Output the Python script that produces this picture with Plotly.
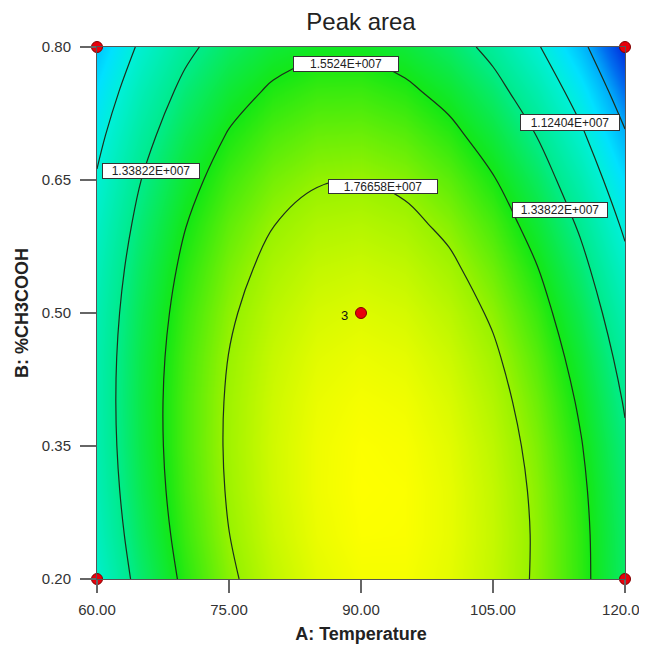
import plotly.graph_objects as go
import numpy as np

# ---- data ----
temperature = [60, 65, 70, 75, 80, 85, 90, 95, 100, 105, 110, 115, 120]                     # A
ch3cooh = [0.20, 0.25, 0.30, 0.35, 0.40, 0.45, 0.50, 0.55, 0.60, 0.65, 0.70, 0.75, 0.80]     # B
# Peak area in units of 1E+007; rows follow ch3cooh, columns follow temperature
peak_area_e7 = [
    [1.1620, 1.3930, 1.5857, 1.7400, 1.8560, 1.9337, 1.9730, 1.9740, 1.9367, 1.8610, 1.7470, 1.5947, 1.4040],
    [1.1970, 1.4246, 1.6139, 1.7649, 1.8775, 1.9518, 1.9878, 1.9854, 1.9447, 1.8657, 1.7483, 1.5926, 1.3986],
    [1.2224, 1.4467, 1.6327, 1.7803, 1.8896, 1.9605, 1.9931, 1.9874, 1.9433, 1.8609, 1.7402, 1.5812, 1.3838],
    [1.2385, 1.4594, 1.6420, 1.7863, 1.8922, 1.9598, 1.9890, 1.9799, 1.9325, 1.8468, 1.7227, 1.5603, 1.3595],
    [1.2451, 1.4627, 1.6419, 1.7828, 1.8853, 1.9496, 1.9754, 1.9630, 1.9122, 1.8231, 1.6957, 1.5299, 1.3258],
    [1.2423, 1.4565, 1.6323, 1.7699, 1.8691, 1.9299, 1.9524, 1.9366, 1.8825, 1.7900, 1.6592, 1.4901, 1.2826],
    [1.2300, 1.4408, 1.6133, 1.7475, 1.8433, 1.9008, 1.9200, 1.9008, 1.8433, 1.7475, 1.6133, 1.4408, 1.2300],
    [1.2083, 1.4158, 1.5849, 1.7157, 1.8082, 1.8623, 1.8781, 1.8556, 1.7947, 1.6955, 1.5580, 1.3821, 1.1679],
    [1.1771, 1.3812, 1.5470, 1.6745, 1.7636, 1.8143, 1.8268, 1.8009, 1.7367, 1.6341, 1.4932, 1.3140, 1.0965],
    [1.1365, 1.3373, 1.4997, 1.6238, 1.7095, 1.7569, 1.7660, 1.7368, 1.6692, 1.5633, 1.4190, 1.2364, 1.0155],
    [1.0865, 1.2838, 1.4429, 1.5636, 1.6460, 1.6901, 1.6958, 1.6632, 1.5922, 1.4830, 1.3353, 1.1494, 0.9251],
    [1.0269, 1.2210, 1.3767, 1.4940, 1.5731, 1.6138, 1.6161, 1.5801, 1.5058, 1.3932, 1.2422, 1.0529, 0.8253],
    [0.9580, 1.1487, 1.3010, 1.4150, 1.4907, 1.5280, 1.5270, 1.4877, 1.4100, 1.2940, 1.1397, 0.9470, 0.7160],
]
contour_levels_e7 = [0.90986, 1.12404, 1.33822, 1.5524, 1.76658]

label_text = ["1.5524E+007", "1.76658E+007", "1.33822E+007", "1.12404E+007", "1.33822E+007"]

design_A = [60, 60, 120, 120, 90]
design_B = [0.2, 0.8, 0.2, 0.8, 0.5]
replicates = [1, 1, 1, 1, 3]

x_ticks = [60, 75, 90, 105, 120]
y_ticks = [0.20, 0.35, 0.50, 0.65, 0.80]

# ---- layout constants (label box placement) ----
label_pos_A = [88.3, 92.5, 66.14, 113.75, 112.61]
label_pos_B = [0.7803, 0.6427, 0.6607, 0.7149, 0.6162]
label_w = [102, 106, 94, 96, 92]
label_h = [12, 11, 12, 13, 12]

FONT = "Arial, Liberation Sans, sans-serif"
E7 = 1e7
z = np.array(peak_area_e7) * E7
levels = np.array(contour_levels_e7) * E7
step = levels[1] - levels[0]

colorscale = [
    [0.00, "rgb(0,30,215)"],
    [0.10, "rgb(0,110,240)"],
    [0.16, "rgb(0,170,250)"],
    [0.25, "rgb(0,225,255)"],
    [0.33, "rgb(0,240,215)"],
    [0.49, "rgb(0,235,140)"],
    [0.66, "rgb(20,232,20)"],
    [0.82, "rgb(150,242,0)"],
    [1.00, "rgb(255,255,0)"],
]

fig = go.Figure()
fig.add_trace(go.Contour(
    x=temperature, y=ch3cooh, z=z,
    colorscale=colorscale, zmin=0.70 * E7, zmax=1.995 * E7,
    contours=dict(start=levels[0], end=levels[-1], size=step,
                  coloring="heatmap", showlines=True, showlabels=False),
    line=dict(color="#1c2e1c", width=1.2, smoothing=1.0),
    showscale=False, hoverinfo="skip",
))

fig.add_trace(go.Scatter(
    x=design_A, y=design_B, mode="markers",
    marker=dict(size=11, color="#e8000b", line=dict(color="#800000", width=1)),
    cliponaxis=False, hoverinfo="skip", showlegend=False,
))

for a, b, n in zip(design_A, design_B, replicates):
    if n > 1:
        fig.add_annotation(x=a, y=b, text=str(n), showarrow=False, xshift=-17, yshift=-2,
                           font=dict(size=13, color="#111", family=FONT))

for t, a, b, w, h in zip(label_text, label_pos_A, label_pos_B, label_w, label_h):
    fig.add_annotation(x=a, y=b, text=t, showarrow=False, width=w, height=h,
                       bgcolor="white", bordercolor="#333", borderwidth=1, borderpad=1,
                       font=dict(size=12, color="#222", family=FONT))

axis_common = dict(showline=True, linecolor="#555", linewidth=1, mirror=True,
                   ticks="outside", tickcolor="#666", tickwidth=1.5, showgrid=False, zeroline=False,
                   automargin=False, ticklabeloverflow="allow",
                   tickfont=dict(size=15, color="#333", family=FONT))

fig.update_xaxes(range=[60, 120], tickvals=x_ticks, tickformat=".2f", ticklen=13,
                 ticklabelstandoff=4,
                 title=dict(text="<b>A: Temperature</b>", standoff=10,
                            font=dict(size=18, color="#222", family=FONT)),
                 **axis_common)
fig.update_yaxes(range=[0.2, 0.8], tickvals=y_ticks, tickformat=".2f", ticklen=16,
                 ticklabelstandoff=6,
                 title=dict(text="<b>B: %CH3COOH</b>", standoff=8,
                            font=dict(size=18, color="#222", family=FONT)),
                 **axis_common)

# the page adds an 8 px body margin, so the figure is 639 px and margins are shifted
fig.update_layout(
    width=639, height=639,
    margin=dict(l=89, r=22, t=39, b=68, autoexpand=False),
    paper_bgcolor="white", plot_bgcolor="white",
    title=dict(text="Peak area", x=(89 + 617) / 2 / 639, xanchor="center", y=1 - 14 / 639, yanchor="middle",
               font=dict(size=24, color="#222", family=FONT)),
    showlegend=False,
)

fig.write_html("out.html")
